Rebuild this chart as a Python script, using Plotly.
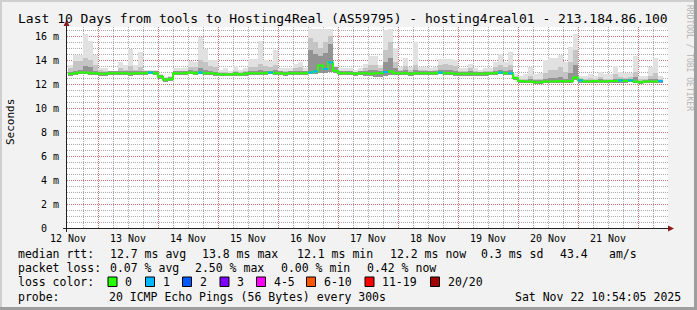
import plotly.graph_objects as go

# ------------------------------------------------------------------ data
day_labels = ["12 Nov", "13 Nov", "14 Nov", "15 Nov", "16 Nov",
              "17 Nov", "18 Nov", "19 Nov", "20 Nov", "21 Nov"]
bin_hours = 2  # each sample covers 2 hours, starting 12 Nov 00:00

median_rtt = [
    12.85, 12.9, 12.95, 12.95, 12.9, 12.9, 12.85, 12.85, 12.9, 12.9,
    12.9, 12.9, 12.85, 12.9, 12.9, 12.9, 12.95, 12.9, 12.6, 12.35,
    12.4, 12.9, 12.9, 12.9, 12.95, 12.9, 12.95, 12.9, 12.9, 12.85,
    12.8, 12.8, 12.8, 12.85, 12.8, 12.85, 12.9, 12.9, 12.9, 12.9,
    12.95, 12.9, 12.9, 12.85, 12.9, 12.9, 12.9, 12.9, 12.95, 13.05,
    13.55, 13.25, 13.8, 13.1, 12.9, 12.9, 12.9, 12.85, 12.9, 12.9,
    12.85, 12.9, 12.9, 13.0, 13.05, 12.9, 12.9, 12.9, 12.85, 12.9,
    12.9, 12.9, 12.9, 12.9, 12.95, 12.9, 12.9, 12.85, 12.85, 12.85,
    12.85, 12.85, 12.85, 12.85, 12.9, 12.9, 12.95, 12.9, 12.9, 12.5,
    12.25, 12.2, 12.2, 12.15, 12.15, 12.2, 12.2, 12.2, 12.25, 12.2,
    12.25, 12.55, 12.3, 12.2, 12.2, 12.25, 12.2, 12.2, 12.25, 12.25,
    12.3, 12.25, 12.3, 12.2, 12.15, 12.2, 12.2, 12.2, 12.25,
]

ping_min = [
    12.7, 12.75, 12.8, 12.8, 12.75, 12.75, 12.7, 12.7, 12.75, 12.75,
    12.75, 12.75, 12.7, 12.75, 12.75, 12.75, 12.8, 12.75, 12.45, 12.2,
    12.25, 12.75, 12.75, 12.75, 12.8, 12.75, 12.8, 12.75, 12.75, 12.7,
    12.65, 12.65, 12.65, 12.7, 12.65, 12.7, 12.75, 12.75, 12.75, 12.75,
    12.8, 12.75, 12.75, 12.7, 12.75, 12.75, 12.75, 12.75, 12.8, 12.85,
    12.9, 12.9, 13.0, 12.9, 12.75, 12.75, 12.75, 12.7, 12.75, 12.7,
    12.7, 12.6, 12.6, 12.65, 12.75, 12.75, 12.75, 12.75, 12.7, 12.75,
    12.75, 12.75, 12.75, 12.75, 12.8, 12.75, 12.75, 12.7, 12.7, 12.7,
    12.7, 12.7, 12.7, 12.7, 12.75, 12.75, 12.8, 12.75, 12.75, 12.3,
    12.1, 12.05, 12.05, 12.0, 12.0, 12.05, 12.05, 12.05, 12.1, 12.05,
    12.1, 12.3, 12.1, 12.05, 12.05, 12.1, 12.05, 12.05, 12.1, 12.1,
    12.1, 12.1, 12.15, 12.05, 12.0, 12.05, 12.05, 12.05, 12.1,
]

ping_p75 = [
    13.0, 13.1, 13.15, 13.5, 13.4, 13.1, 13.0, 13.0, 13.05, 13.05,
    13.1, 13.05, 13.1, 13.05, 13.1, 13.05, 13.1, 13.05, 12.75, 12.5,
    12.55, 13.05, 13.05, 13.05, 13.15, 13.1, 13.3, 13.2, 13.1, 13.0,
    12.95, 12.95, 12.95, 13.0, 12.95, 13.0, 13.1, 13.1, 13.2, 13.1,
    13.1, 13.2, 13.05, 13.0, 13.05, 13.1, 13.1, 13.05, 14.8, 14.5,
    14.3, 14.6, 15.3, 13.4, 13.05, 13.05, 13.05, 13.0, 13.05, 13.1,
    13.2, 13.2, 13.1, 13.8, 14.2, 13.3, 13.05, 13.15, 13.0, 13.2,
    13.05, 13.05, 13.05, 13.05, 13.2, 13.2, 13.2, 13.1, 13.0, 13.0,
    13.05, 13.0, 13.0, 13.0, 13.0, 13.1, 13.2, 13.1, 13.2, 12.6,
    12.35, 12.3, 12.4, 12.3, 12.3, 12.45, 12.5, 12.5, 12.6, 12.4,
    12.9, 13.6, 12.4, 12.3, 12.35, 12.35, 12.4, 12.3, 12.35, 12.45,
    12.4, 12.4, 12.4, 12.6, 12.25, 12.3, 12.4, 12.45, 12.35,
]

ping_p90 = [
    13.3, 13.9, 13.9, 14.2, 14.0, 13.6, 13.2, 13.1, 13.0, 13.0,
    13.3, 13.2, 13.5, 13.2, 13.4, 13.1, 13.1, 13.0, 12.7, 12.5,
    12.55, 13.1, 13.1, 13.1, 13.4, 13.4, 14.0, 13.8, 13.5, 13.4,
    13.0, 13.0, 12.95, 13.1, 13.0, 13.1, 13.4, 13.4, 13.7, 13.5,
    13.4, 13.6, 13.1, 13.1, 13.1, 13.3, 13.4, 13.1, 15.8, 15.5,
    15.0, 15.5, 16.0, 13.3, 13.1, 13.1, 13.1, 13.0, 13.1, 13.3,
    13.6, 13.6, 13.3, 14.8, 15.5, 13.8, 13.2, 13.5, 13.2, 13.6,
    13.2, 13.2, 13.1, 13.2, 13.6, 13.7, 13.6, 13.5, 13.1, 13.1,
    13.3, 13.1, 13.0, 13.1, 13.1, 13.4, 13.6, 13.4, 13.6, 12.65,
    12.45, 12.4, 12.7, 12.4, 12.45, 12.9, 13.2, 13.2, 13.4, 13.0,
    13.8, 14.8, 12.5, 12.45, 12.5, 12.45, 12.6, 12.45, 12.45, 12.8,
    12.6, 12.5, 12.55, 13.0, 12.4, 12.4, 12.7, 12.9, 12.45,
]

ping_max = [
    13.6, 14.4, 14.4, 16.2, 15.6, 14.4, 13.3, 13.3, 13.1, 13.1,
    13.8, 13.6, 14.9, 13.6, 14.7, 13.2, 13.2, 13.2, 12.8, 12.6,
    12.7, 13.3, 13.3, 13.3, 13.9, 13.8, 15.9, 14.9, 14.0, 14.0,
    13.2, 13.3, 13.1, 13.5, 13.2, 13.3, 14.1, 14.1, 15.6, 14.0,
    13.9, 14.8, 13.3, 13.3, 13.3, 13.7, 13.8, 13.3, 16.6, 16.6,
    16.6, 16.6, 16.6, 13.5, 13.3, 13.3, 13.3, 13.2, 13.3, 13.7,
    14.3, 14.3, 13.6, 16.5, 16.6, 15.0, 13.4, 14.2, 13.4, 15.5,
    13.4, 13.4, 13.3, 13.4, 14.1, 14.1, 14.1, 14.0, 13.3, 13.3,
    13.7, 13.3, 13.2, 13.3, 13.3, 13.8, 14.5, 13.8, 14.7, 12.8,
    12.7, 12.8, 13.4, 12.8, 12.9, 14.0, 14.2, 14.2, 14.4, 13.8,
    15.1, 16.2, 12.7, 12.7, 12.8, 12.7, 13.0, 12.8, 12.8, 13.5,
    13.0, 12.9, 12.9, 14.3, 12.7, 12.7, 13.4, 14.2, 12.7,
]

lost_pings = [
    0, 0, 0, 0, 0, 0, 0, 0, 0, 0,
    0, 0, 0, 0, 0, 0, 1, 0, 0, 0,
    0, 0, 0, 0, 0, 0, 1, 0, 0, 0,
    0, 0, 0, 0, 0, 0, 0, 0, 0, 0,
    1, 0, 0, 0, 0, 0, 0, 0, 1, 1,
    0, 1, 1, 0, 0, 0, 0, 0, 0, 0,
    0, 0, 0, 1, 0, 0, 0, 0, 0, 0,
    0, 0, 0, 0, 1, 0, 0, 0, 0, 0,
    0, 0, 0, 0, 0, 0, 1, 0, 1, 0,
    0, 0, 0, 0, 0, 0, 0, 0, 0, 0,
    0, 0, 1, 0, 0, 0, 0, 0, 0, 0,
    1, 0, 1, 0, 0, 0, 0, 0, 1,
]

y_tick_values = [0, 2, 4, 6, 8, 10, 12, 14, 16]
y_tick_text = ["0\u00a0\u00a0", "2 m", "4 m", "6 m", "8 m",
               "10 m", "12 m", "14 m", "16 m"]

title_text = ("Last 10 Days from tools to Hosting4Real (AS59795) - "
              "hosting4real01 - 213.184.86.100")
rtt_row = ["median rtt:", "12.7 ms avg", "13.8 ms max", "12.1 ms min",
           "12.2 ms now", "0.3 ms sd", "43.4", "am/s"]
loss_row = ["packet loss:", "0.07 % avg", "2.50 % max", "0.00 % min",
            "0.42 % now"]
color_row_label = "loss color:"
loss_labels = ["0", "1", "2", "3", "4-5", "6-10", "11-19", "20/20"]
loss_upper = [0, 1, 2, 3, 5, 10, 19, 20]
loss_colors = ["#26ff00", "#00b8ff", "#0059ff", "#7e00ff",
               "#ff00ff", "#ff5500", "#ff0000", "#a10000"]
probe_row = ["probe:", "20 ICMP Echo Pings (56 Bytes) every 300s",
             "Sat Nov 22 10:54:05 2025"]
watermark = "RRDTOOL / TOBI OETIKER"

# ------------------------------------------------------------------ layout geometry
W, H = 697, 310
PL, PR, PT, PB = 67, 668, 27, 228
MONO = "DejaVu Sans Mono"


def px(p):
    return (p - PL) / (PR - PL)


def py(p):
    return (PB - p) / (PB - PT)


# ------------------------------------------------------------------ traces
n = len(median_rtt)
starts = [k * bin_hours for k in range(n)]
centers = [s + bin_hours / 2 for s in starts]

fig = go.Figure()
smoke_layers = [
    (ping_max, "#e1e1e1"),
    (ping_p90, "#c4c4c4"),
    (ping_p75, "#939393"),
]
for top, col in smoke_layers:
    fig.add_trace(go.Bar(
        x=centers, y=[t - b for t, b in zip(top, ping_min)], base=ping_min,
        width=bin_hours, marker=dict(color=col, line=dict(width=0)),
        hoverinfo="skip"))

# median line (loss 0 colour, continuous)
fig.add_trace(go.Scatter(
    x=starts + [starts[-1] + bin_hours], y=median_rtt + [median_rtt[-1]],
    mode="lines", line=dict(color=loss_colors[0], width=2, shape="hv"),
    hoverinfo="skip"))


def loss_index(lost):
    for i, up in enumerate(loss_upper):
        if lost <= up:
            return i
    return len(loss_upper) - 1


for ci in range(1, len(loss_colors)):
    xs, ys = [], []
    for k in range(n):
        if lost_pings[k] > 0 and loss_index(lost_pings[k]) == ci:
            xs += [starts[k], starts[k] + bin_hours, None]
            ys += [median_rtt[k], median_rtt[k], None]
    if xs:
        fig.add_trace(go.Scatter(x=xs, y=ys, mode="lines",
                                 line=dict(color=loss_colors[ci], width=2),
                                 hoverinfo="skip"))

# ------------------------------------------------------------------ axes
grid_minor = "rgba(143,143,143,0.75)"
grid_major = "rgba(222,79,79,0.6)"
hours_per_px = 24 / 60.0

fig.update_xaxes(
    range=[-1 * hours_per_px, (PR - PL - 1) * hours_per_px],
    tickvals=[12 + 24 * i for i in range(len(day_labels))],
    ticktext=day_labels, ticklabelshift=int(round(-12 / hours_per_px)),
    ticklabelstandoff=3,
    ticks="", showgrid=True, gridcolor=grid_major, griddash="1px,1px",
    gridwidth=1, zeroline=False, showline=False,
    tickfont=dict(family=MONO, size=10, color="#000"),
    minor=dict(tick0=0, dtick=6, showgrid=True, gridcolor=grid_minor,
               griddash="1px,1px", gridwidth=1),
    fixedrange=True)
fig.update_yaxes(
    range=[0, (PB - PT) / 12.0],
    tickvals=y_tick_values, ticktext=y_tick_text, ticks="",
    ticklabelstandoff=7,
    showgrid=True, gridcolor=grid_major, griddash="1px,1px", gridwidth=1,
    zeroline=False, showline=False,
    tickfont=dict(family=MONO, size=10, color="#000"),
    minor=dict(dtick=0.5, showgrid=True, gridcolor=grid_minor,
               griddash="1px,1px", gridwidth=1),
    fixedrange=True)

# ------------------------------------------------------------------ decorations
shapes = []
# frame shading
shapes.append(dict(type="rect", xref="paper", yref="paper", x0=px(0), x1=px(W),
                   y0=py(0), y1=py(2), fillcolor="#cfcfcf", line=dict(width=0)))
shapes.append(dict(type="rect", xref="paper", yref="paper", x0=px(0), x1=px(2),
                   y0=py(0), y1=py(H), fillcolor="#cfcfcf", line=dict(width=0)))
shapes.append(dict(type="rect", xref="paper", yref="paper", x0=px(0), x1=px(W),
                   y0=py(H - 3), y1=py(H), fillcolor="#9e9e9e", line=dict(width=0)))
shapes.append(dict(type="rect", xref="paper", yref="paper", x0=px(W - 3), x1=px(W),
                   y0=py(0), y1=py(H), fillcolor="#9e9e9e", line=dict(width=0)))
# axis lines
axis_col = "#212121"
shapes.append(dict(type="line", xref="paper", yref="paper", x0=px(63), x1=px(669),
                   y0=py(228.5), y1=py(228.5), line=dict(color=axis_col, width=1)))
shapes.append(dict(type="line", xref="paper", yref="paper", x0=px(66.5), x1=px(66.5),
                   y0=py(232), y1=py(23), line=dict(color=axis_col, width=1)))
# arrows
arrow_col = "#8b1a1a"
shapes.append(dict(type="path", xref="paper", yref="paper",
                   path=f"M {px(63.5)},{py(26)} L {px(69.5)},{py(26)} L {px(66.5)},{py(20)} Z",
                   fillcolor=arrow_col, line=dict(width=0)))
shapes.append(dict(type="path", xref="paper", yref="paper",
                   path=f"M {px(668)},{py(225.5)} L {px(668)},{py(231.5)} L {px(674)},{py(228.5)} Z",
                   fillcolor=arrow_col, line=dict(width=0)))

annotations = []


def text_at(x, y, s, size=11.5, anchor="left", color="#000", family=MONO, angle=0):
    annotations.append(dict(xref="paper", yref="paper", x=px(x), y=py(y), text=s,
                            showarrow=False, xanchor=anchor, yanchor="middle",
                            textangle=angle,
                            font=dict(family=family, size=size, color=color)))


text_at(16, 18.5, title_text, size=13)
text_at(11, 122, "Seconds", size=11, anchor="center", angle=-90)
text_at(689, 58, watermark, size=8, anchor="center", color="#b4b4b4", angle=90)

rtt_x = [16, 108, 200, 295, 388, 479, 558, 607]
for x, s in zip(rtt_x, rtt_row):
    text_at(x, 254, s)
loss_x = [16, 108, 193, 279, 365]
for x, s in zip(loss_x, loss_row):
    text_at(x, 268, s)
text_at(16, 282, color_row_label)
box_x = [108, 145.5, 182.5, 220, 256.5, 306.5, 365, 430.5]
for bx, lab, col in zip(box_x, loss_labels, loss_colors):
    shapes.append(dict(type="rect", xref="paper", yref="paper",
                       x0=px(bx), x1=px(bx + 9), y0=py(277), y1=py(286.5),
                       fillcolor=col, line=dict(color="#000", width=1)))
    text_at(bx + 15, 282, lab)
text_at(16, 297, probe_row[0])
text_at(107, 297, probe_row[1])
text_at(513, 297, probe_row[2])

fig.update_layout(
    width=W, height=H,
    margin=dict(l=PL, r=W - PR, t=PT, b=H - PB, pad=0),
    paper_bgcolor="#f2f2f2", plot_bgcolor="#ffffff",
    showlegend=False, barmode="overlay", bargap=0,
    shapes=shapes, annotations=annotations,
    hovermode=False,
)

fig.write_html("out.html", config={"displayModeBar": False})
